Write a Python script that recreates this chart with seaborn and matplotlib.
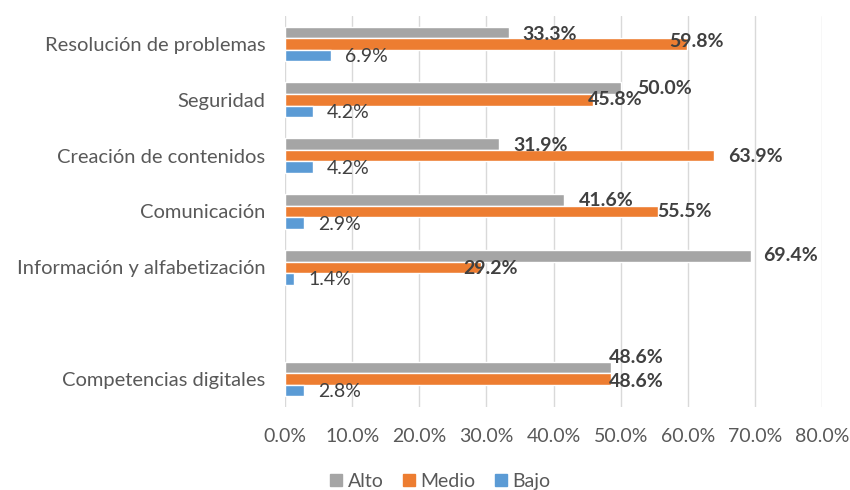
import pandas as pd
import matplotlib.pyplot as plt
import seaborn as sns
from matplotlib.patches import Patch

# datos
categorias = ['Resolución de problemas', 'Seguridad', 'Creación de contenidos',
              'Comunicación', 'Información y alfabetización', 'Competencias digitales']
alto = [33.3, 50.0, 31.9, 41.6, 69.4, 48.6]
medio = [59.8, 45.8, 63.9, 55.5, 29.2, 48.6]
bajo = [6.9, 4.2, 4.2, 2.9, 1.4, 2.8]
niveles = ['Alto', 'Medio', 'Bajo']
colores = {'Alto': '#A5A5A5', 'Medio': '#ED7D31', 'Bajo': '#5B9BD5'}

# hueco vacío entre Información y Competencias
orden = categorias[:5] + [' '] + categorias[5:]

# desplazamientos de etiquetas (px) respecto al final de la barra
dx = {'Alto': [14, 16, 14, 15, 12, -2], 'Medio': [-17, -5, 14, 0, -18, -2], 'Bajo': [14] * 6}
dy = {'Alto': [-2, 0, -1, -1, 0, 10], 'Medio': [2, 0, -1, 0, -1, -2], 'Bajo': [-1] * 6}

df = pd.DataFrame({
    'categoria': categorias * 3,
    'nivel': ['Alto'] * 6 + ['Medio'] * 6 + ['Bajo'] * 6,
    'valor': alto + medio + bajo,
})

sns.set_theme(style='white')
plt.rcParams['font.family'] = ['Lato', 'DejaVu Sans']

fig = plt.figure(figsize=(8.5, 4.9), dpi=100)
ax = fig.add_axes([0.3353, 0.1694, 0.632, 0.798])

sns.barplot(data=df, y='categoria', x='valor', hue='nivel', order=orden,
            hue_order=niveles, palette=colores, width=0.62, saturation=1,
            orient='h', legend=False, ax=ax)

ax.set_xlim(0, 80)
ax.set_xticks(range(0, 81, 10))
ax.set_xticklabels([f'{v:.1f}%' for v in range(0, 81, 10)])
ax.xaxis.grid(True, color='#D9D9D9', lw=1)
ax.set_axisbelow(True)
for s in ax.spines.values():
    s.set_visible(False)
ax.set_xlabel('')
ax.set_ylabel('')
ax.tick_params(axis='x', length=0, pad=15, labelsize=14, labelcolor='#595959')
ax.tick_params(axis='y', length=0, pad=14, labelsize=14.5, labelcolor='#595959')

# etiquetas de datos
for nivel, cont in zip(niveles, ax.containers):
    for bar in cont:
        w = bar.get_width()
        if pd.isna(w) or w == 0:
            continue
        yc = bar.get_y() + bar.get_height() / 2
        idx = categorias.index(orden[int(round(yc))])
        ax.annotate(f'{w:.1f}%', (w, yc),
                    xytext=(dx[nivel][idx], dy[nivel][idx]), textcoords='offset pixels',
                    ha='left', va='center', fontsize=14, color='#404040',
                    fontweight='normal' if nivel == 'Bajo' else 'bold')

handles = [Patch(color=colores[n]) for n in niveles]
fig.legend(handles, niveles, loc='center', bbox_to_anchor=(0.518, 0.017), ncol=3,
           frameon=False, fontsize=14, handlelength=0.6, handleheight=0.6,
           handletextpad=0.3, columnspacing=1.0, labelcolor='#595959')

fig.savefig('out.png', dpi=100)
